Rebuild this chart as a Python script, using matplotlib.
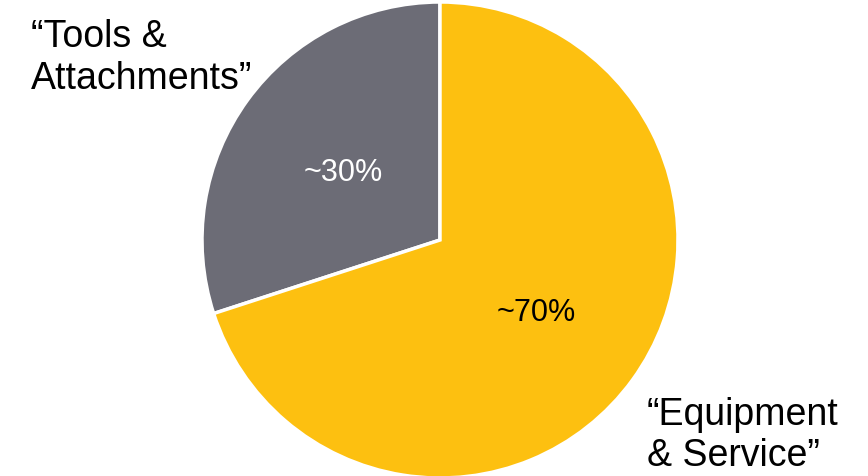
import matplotlib

matplotlib.use("Agg")
import matplotlib.pyplot as plt

plt.rcParams["font.family"] = ["Liberation Sans", "DejaVu Sans"]

# 데이터
segments = ["Tools & Attachments", "Equipment & Service"]
shares = [30, 70]
share_labels = ["~30%", "~70%"]
outer_labels = ["\u201cTools &\nAttachments\u201d", "\u201cEquipment\n& Service\u201d"]

_GRAY = "#6c6c76"
_YELLOW = "#fdc010"

fig = plt.figure(figsize=(8.68, 4.76), dpi=100)
fig.patch.set_facecolor("white")

# 파이: 중심 (440, 240)px, 반지름 ~238px
cx, cy, r = 440, 476 - 240, 238
ax = fig.add_axes(((cx - r) / 868, (cy - r) / 476, 2 * r / 868, 2 * r / 476))
wedges, _ = ax.pie(shares, colors=[_GRAY, _YELLOW], startangle=90, counterclock=True,
                   radius=1.0, wedgeprops={"edgecolor": "white", "linewidth": 2.5})
ax.set_xlim(-1, 1)
ax.set_ylim(-1, 1)
ax.set_aspect("equal")
ax.axis("off")

# 비율 라벨 (figure 픽셀 좌표)
fig.text(343 / 868, 1 - 173 / 476, share_labels[0], ha="center", va="center",
         fontsize=22, color="white")
fig.text(536 / 868, 1 - 313 / 476, share_labels[1], ha="center", va="center",
         fontsize=22, color="black")

# 바깥 라벨
fig.text(31 / 868, 1 - 19 / 476, outer_labels[0], ha="left", va="top",
         fontsize=27, color="black", linespacing=1.22)
fig.text(647 / 868, 1 - 397 / 476, outer_labels[1], ha="left", va="top",
         fontsize=27, color="black", linespacing=1.18)

fig.savefig("out.png", facecolor=fig.get_facecolor())
plt.close(fig)
